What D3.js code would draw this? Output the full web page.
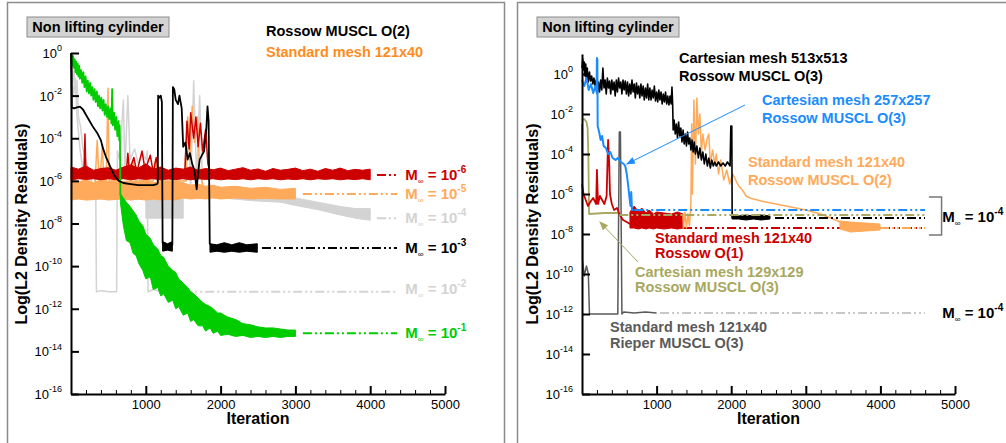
<!DOCTYPE html>
<html><head><meta charset="utf-8">
<script src="https://cdn.jsdelivr.net/npm/d3@7"></script>
<style>body{margin:0;background:#fff}svg{font-family:"Liberation Sans",Arial,Helvetica,sans-serif}</style>
</head><body><svg id="c" width="1006" height="443"></svg>
<script>
// ---------------- DATA (iteration, log10 of residual) ----------------
const xTicks=[1000,2000,3000,4000,5000];
const xMinor=[200,400,600,800,1200,1400,1600,1800,2200,2400,2600,2800,3200,3400,3600,3800,4200,4400,4600,4800];
const yTickExps=[0,-2,-4,-6,-8,-10,-12,-14,-16];

// LEFT: Rossow MUSCL O(2), standard mesh 121x40
const L_green_early=[[0,-0.3],[10,-0.1],[20,-0.6],[30,-0.15],[40,-0.7],[50,-0.3],[60,-0.9],[70,-0.4],[80,-1.0],[90,-0.5],[100,-1.1],[110,-0.6],[120,-1.2],[135,-0.8],[150,-1.4],[165,-0.9],[180,-1.6],[195,-1.1],[210,-1.8],[225,-1.3],[240,-1.9],[255,-1.4],[270,-2.0],[285,-1.6],[300,-2.2],[315,-1.7],[330,-2.3],[345,-1.8],[360,-2.5],[375,-2.0],[390,-2.6],[405,-2.1],[420,-2.7],[435,-2.2],[450,-2.9],[465,-2.4],[480,-3.0],[495,-2.5],[510,-3.1],[525,-2.6],[540,-3.3],[550,-1.7],[560,-3.4],[575,-2.8],[590,-3.6],[605,-3.0],[620,-3.9],[635,-3.2],[645,-4.1],[650,-3.4],[655,-4.2],[660,-6.7]];
const L_green_band=[[660,-6.6,-7.0],[700,-6.8,-8.1],[740,-7.0,-8.8],[790,-7.2,-8.9],[830,-7.4,-9.4],[870,-7.6,-9.5],[910,-7.9,-9.9],[960,-8.1,-10.2],[1000,-8.5,-10.6],[1060,-8.7,-10.5],[1100,-9.0,-11.1],[1160,-9.2,-11.0],[1200,-9.5,-11.4],[1240,-9.6,-11.3],[1300,-10.0,-11.7],[1360,-10.2,-11.6],[1400,-10.3,-12.0],[1440,-10.6,-11.9],[1500,-10.8,-12.3],[1560,-11.0,-12.2],[1600,-11.2,-12.6],[1640,-11.3,-12.5],[1700,-11.5,-12.8],[1760,-11.7,-12.8],[1800,-11.8,-13.05],[1860,-11.9,-12.9],[1900,-12.0,-13.15],[1960,-12.2,-13.05],[2000,-12.2,-13.25],[2100,-12.4,-13.2],[2200,-12.5,-13.3],[2300,-12.7,-13.25],[2400,-12.75,-13.35],[2500,-12.85,-13.3],[2600,-12.9,-13.35],[2700,-12.9,-13.3],[2800,-12.95,-13.35],[2900,-13.0,-13.3],[3000,-13.0,-13.3]];
const L_orange_band=[[0,-5.8,-6.9],[100,-6.05,-6.85],[200,-5.95,-6.9],[300,-6.1,-6.88],[400,-5.95,-6.85],[500,-6.05,-6.9],[600,-5.9,-6.87],[700,-6.1,-6.85],[800,-6.0,-6.9],[900,-6.05,-6.86],[1000,-5.95,-6.9],[1100,-6.1,-6.85],[1200,-6.0,-6.9],[1300,-6.05,-6.87],[1400,-6.0,-6.9],[1500,-6.1,-6.8],[1600,-6.2,-6.85],[1700,-6.15,-6.82],[1800,-6.25,-6.85],[1900,-6.2,-6.8],[2000,-6.3,-6.85],[2200,-6.25,-6.8],[2400,-6.35,-6.85],[2600,-6.3,-6.82],[2800,-6.4,-6.85],[3000,-6.35,-6.85]];
const L_orange_spikes=[[320,-6.2],[350,-4.1],[380,-6.3],[420,-4.3],[440,-6.2],[470,-6.0],[495,-1.65],[510,-6.1],[800,-6.0],[830,-5.1],[860,-6.0],[1100,-6.0],[1130,-5.0],[1160,-6.0],[1540,-6.0],[1560,-3.0],[1590,-5.0],[1620,-2.5],[1650,-4.2],[1690,-3.0],[1720,-5.5],[1760,-6.2]];
const L_red_band=[[0,-5.35,-5.95],[100,-5.45,-5.9],[200,-5.3,-5.93],[300,-5.5,-5.9],[400,-5.42,-5.95],[500,-5.38,-5.9],[600,-5.5,-5.94],[700,-5.35,-5.9],[800,-5.25,-5.95],[900,-5.4,-5.9],[1000,-5.2,-5.93],[1100,-5.45,-5.9],[1200,-5.35,-5.95],[1300,-5.5,-5.91],[1400,-5.4,-5.94],[1500,-5.45,-5.9],[1600,-5.35,-5.95],[1700,-5.5,-5.9],[1800,-5.42,-5.93],[1900,-5.48,-5.9],[2000,-5.4,-5.95],[2100,-5.52,-5.91],[2200,-5.45,-5.94],[2300,-5.38,-5.9],[2400,-5.5,-5.95],[2500,-5.44,-5.9],[2600,-5.55,-5.93],[2700,-5.42,-5.9],[2800,-5.5,-5.95],[2900,-5.46,-5.91],[3000,-5.4,-5.94],[3100,-5.52,-5.9],[3200,-5.45,-5.95],[3300,-5.55,-5.9],[3400,-5.42,-5.93],[3500,-5.5,-5.9],[3600,-5.4,-5.95],[3700,-5.52,-5.91],[3800,-5.46,-5.94],[3900,-5.5,-5.9],[4000,-5.45,-5.95]];
const L_red_spikes=[[170,-5.9],[187,-3.8],[200,-5.9],[740,-5.6],[760,-4.7],[780,-5.5],[840,-4.9],[880,-5.6],[950,-4.6],[990,-5.5],[1060,-4.8],[1100,-5.6],[1140,-4.9],[1170,-5.6],[1520,-5.8],[1550,-3.2],[1580,-4.5],[1600,-2.8],[1640,-4.0],[1670,-3.0],[1700,-4.4],[1730,-3.3],[1760,-4.6],[1800,-3.6],[1830,-5.2],[1860,-5.6]];
const L_gray4_early=[[0,-0.3],[30,-2.0],[60,-1.2],[80,-3.0],[120,-4.5],[160,-5.5],[200,-5.2],[250,-6.0],[300,-5.5],[350,-6.5],[400,-5.8],[450,-6.6],[500,-6.0],[550,-6.7],[600,-6.2],[650,-6.8],[700,-6.4],[750,-6.8],[800,-6.0],[850,-6.8],[900,-5.5],[950,-6.8],[1000,-6.8]];
const L_gray4_band=[[1000,-6.8,-7.75],[1500,-6.8,-7.75],[1500,-6.3,-6.7],[2000,-6.4,-6.8],[2500,-6.55,-6.95],[2800,-6.65,-7.0],[3000,-6.8,-7.15],[3300,-7.0,-7.35],[3600,-7.2,-7.6],[3800,-7.3,-7.75],[4000,-7.3,-7.85]];
const L_gray4_spikes=[[1500,-6.5],[1560,-3.0],[1600,-6.3],[1640,-1.3],[1680,-6.0],[1720,-2.0],[1760,-6.4]];
const L_gray2_line=[[0,-0.1],[20,-1.5],[40,-0.8],[60,-2.0],[80,-1.3],[100,-3.0],[130,-3.5],[160,-4.5],[200,-5.0],[250,-5.8],[300,-6.2],[330,-6.0],[340,-11.2],[400,-11.15],[500,-11.2],[610,-11.2],[620,-4.6],[650,-5.0],[700,-2.2],[720,-5.5],[760,-2.0],[790,-5.0],[850,-4.5],[900,-5.2],[950,-4.7],[1000,-5.0],[1020,-4.6],[1030,-11.2],[1100,-11.1],[1200,-11.2],[1300,-11.15],[1360,-11.2]];
const L_black_line=[[0,0],[5,-1.0],[10,-2.55],[40,-2.6],[80,-2.55],[120,-2.52],[160,-2.65],[200,-2.9],[250,-3.2],[300,-3.5],[350,-3.75],[400,-4.1],[430,-4.5],[470,-4.9],[520,-5.3],[580,-5.75],[640,-6.0],[700,-6.1],[800,-6.15],[900,-6.2],[1000,-6.2],[1100,-6.2],[1150,-6.15],[1160,-6.1],[1165,-2.0],[1180,-2.1],[1200,-2.0],[1215,-2.3],[1225,-8.9],[1250,-9.2],[1300,-9.1],[1355,-9.0],[1362,-1.6],[1380,-1.7],[1400,-2.2],[1430,-2.4],[1450,-2.0],[1480,-2.6],[1500,-4.4],[1530,-4.2],[1560,-5.0],[1590,-4.7],[1620,-5.2],[1650,-5.5],[1680,-6.4],[1700,-5.6],[1720,-5.0],[1750,-4.8],[1780,-4.6],[1810,-3.5],[1825,-2.5],[1840,-3.2],[1855,-8.95],[1900,-9.1],[2000,-9.15],[2100,-9.05],[2200,-9.2],[2300,-9.1],[2400,-9.15],[2490,-9.1]];
const L_black_band=[[1225,-8.85,-9.3],[1290,-8.95,-9.25],[1355,-8.85,-9.3],[1355,null,null],[1858,-8.95,-9.35],[1950,-9.0,-9.3],[2050,-8.9,-9.35],[2150,-9.0,-9.3],[2250,-8.9,-9.35],[2350,-9.0,-9.3],[2490,-8.95,-9.35]];
const L_dash={red:[4090,4358,-5.73],orange:[3100,4358,-6.62],gray4:[4090,4358,-7.75],black:[2553,4358,-9.15],gray2:[1500,4358,-11.2],green:[3100,4358,-13.15]};
const L_labels=[["-6","#cc0000",-5.73],["-5","#ffaa5a",-6.62],["-4","#d3d3d3",-7.75],["-3","#000000",-9.15],["-2","#d3d3d3",-11.05],["-1","#00cc00",-13.15]];

// RIGHT
const R_black_line=[[0,0.3],[10,0.75],[20,0.2],[30,0.6],[40,-0.1],[50,0.5],[60,-0.3],[70,0.3],[85,-0.4],[100,0.1],[115,-0.35],[130,-0.1],[145,-0.5],[160,-0.2],[175,-0.6],[190,-0.3],[205,-1.0],[220,-0.4],[235,-0.9],[250,-0.3],[265,-0.8],[280,0.3],[295,-0.7],[310,-0.3],[325,-1.0],[340,-0.2],[355,-0.7],[370,-0.35],[385,-1.0],[400,-0.3],[415,-0.8],[430,-0.4],[445,-1.1],[460,-0.3],[475,-0.9],[490,-0.2],[505,-0.7],[520,-0.4],[535,-1.0],[550,-0.3],[565,-0.8],[580,-0.35],[595,-1.0],[610,-0.4],[625,-1.1],[640,-0.5],[655,-1.0],[670,-0.3],[685,-0.9],[700,-0.5],[715,-1.2],[730,-0.45],[745,-1.0],[760,-0.6],[775,-1.2],[790,-0.5],[805,-1.1],[820,-0.6],[835,-1.3],[850,-0.7],[865,-1.2],[880,-0.5],[895,-1.3],[910,-0.7],[925,-1.3],[940,-0.8],[955,-1.2],[970,-0.6],[985,-1.35],[1000,-0.9],[1015,-1.4],[1030,-0.8],[1045,-1.3],[1060,-0.9],[1075,-1.5],[1090,-1.0],[1105,-1.4],[1120,-0.9],[1135,-1.5],[1150,-1.1],[1165,-1.55],[1180,-1.1],[1195,-1.5],[1206,-0.65],[1215,-1.5],[1222,-2.8],[1235,-2.3],[1250,-3.0],[1265,-2.5],[1280,-3.2],[1295,-2.4],[1310,-3.1],[1325,-2.7],[1340,-3.4],[1355,-2.8],[1370,-3.5],[1385,-3.0],[1400,-3.6],[1415,-2.9],[1430,-3.5],[1445,-3.2],[1460,-3.8],[1475,-3.3],[1490,-3.9],[1505,-3.4],[1520,-4.0],[1540,-3.6],[1560,-4.2],[1580,-3.7],[1600,-4.3],[1620,-3.9],[1640,-4.5],[1660,-4.0],[1680,-4.6],[1700,-4.2],[1720,-4.7],[1740,-4.3],[1760,-4.6],[1780,-4.4],[1800,-4.6],[1830,-4.4],[1860,-4.6],[1890,-4.45],[1920,-4.6],[1950,-4.4],[1985,-4.6],[1995,-2.6],[2008,-2.6],[2013,-7.2],[2520,-7.15]];
const R_black_flat=[[2013,-7.05,-7.25],[2100,-7.1,-7.25],[2200,-7.05,-7.3],[2300,-7.1,-7.25],[2400,-7.05,-7.3],[2520,-7.1,-7.25]];
const R_blue_line=[[0,-0.3],[30,-0.6],[60,-0.2],[90,-0.8],[120,-0.5],[150,-0.95],[180,-0.6],[195,-0.9],[200,0.8],[206,0.7],[210,-2.6],[230,-2.9],[250,-3.3],[270,-3.1],[290,-3.6],[320,-3.7],[350,-4.0],[380,-3.9],[410,-4.2],[450,-4.3],[480,-4.2],[520,-4.4],[560,-4.5],[580,-4.6],[600,-5.0],[620,-5.6],[640,-6.3],[650,-6.6],[660,-5.9],[670,-6.8],[690,-6.8]];
const R_olive_line=[[0,-2.3],[30,-2.25],[60,-2.4],[75,-2.7],[85,-4.0],[95,-7.0],[300,-6.95],[500,-6.95]];
const R_red_line=[[0,-5.5],[20,-6.0],[50,-6.3],[80,-6.6],[110,-6.4],[150,-6.2],[190,-6.5],[200,-4.8],[215,-6.5],[240,-6.1],[270,-6.3],[300,-6.5],[330,-6.1],[350,-3.3],[365,-4.5],[375,-6.0],[400,-6.5],[430,-6.8],[470,-6.7],[500,-7.0],[550,-7.3],[600,-7.4],[643,-7.5]];
const R_red_band=[[643,-6.9,-7.7],[700,-6.6,-7.7],[760,-6.9,-7.75],[800,-6.7,-7.7],[860,-6.95,-7.75],[900,-6.8,-7.7],[960,-7.0,-7.75],[1000,-6.9,-7.7],[1100,-6.95,-7.75],[1200,-7.0,-7.7],[1280,-6.9,-7.75],[1354,-7.0,-7.7]];
const R_orange_line=[[1354,-7.0],[1360,-7.7],[1380,-6.9],[1400,-7.7],[1420,-7.0],[1440,-7.6],[1460,-6.5],[1470,-2.5],[1480,-6.0],[1500,-1.3],[1520,-4.5],[1540,-1.2],[1560,-3.0],[1580,-2.0],[1600,-4.0],[1620,-3.0],[1650,-3.8],[1680,-3.2],[1700,-3.0],[1720,-4.5],[1750,-3.8],[1780,-4.5],[1800,-4.0],[1830,-5.0],[1860,-4.3],[1900,-5.3],[1940,-4.8],[1980,-5.5],[2020,-5.0],[2060,-5.3],[2100,-5.6],[2150,-5.8],[2200,-6.1],[2252,-6.2],[2400,-6.35],[2600,-6.5],[2800,-6.65],[3000,-6.8],[3200,-7.0],[3400,-7.3],[3458,-7.4]];
const R_orange_band=[[3458,-7.35,-7.75],[3600,-7.4,-7.9],[3800,-7.45,-7.85],[3995,-7.5,-7.8]];
const R_dgray_line=[[0,-2.5],[8,-9.3],[30,-10.1],[60,-9.6],[85,-10.0],[100,-12.0],[480,-12.0],[500,-2.9],[515,-2.9],[535,-12.0],[560,-11.9],[700,-11.95],[850,-11.9],[1000,-11.95]];
const R_dash={blue:[700,4598,-6.8],olive:[500,4598,-7.05],black:[2587,4598,-7.2],red:[1354,4598,-7.7],orange:[3995,4598,-7.7],rieper:[1046,4598,-11.95]};

// ---------------- DRAW ----------------
const svg=d3.select("#c");
const C={red:"#cc0000",orange:"#ffaa5a",orangeT:"#ff8c1a",gray:"#d3d3d3",green:"#00cc00",blue:"#1a8cff",olive:"#a8a860",dgray:"#5a5a5a"};
const P=10;
svg.append("path").attr("d","M7.5,443V2.5H504.5V443").attr("fill","none").attr("stroke","#8c8c8c").attr("stroke-width",1.5);
svg.append("path").attr("d","M517.5,443V2.5H1006").attr("fill","none").attr("stroke","#8c8c8c").attr("stroke-width",1.5);

function makePanel(cfg){
  const x=d3.scaleLinear().domain([0,5000]).range([cfg.x0,cfg.x1]);
  const y=d3.scaleLog().domain([1e-16,cfg.ymax]).range([394,cfg.ytop]);
  const g=svg.append("g");
  const data=g.append("g");
  const ax=g.append("g");
  const ya=ax.append("g").attr("transform",`translate(${cfg.x0},0)`)
    .call(d3.axisLeft(y).tickValues(yTickExps.map(e=>Math.pow(P,e))).tickSizeInner(-8).tickSizeOuter(0).tickPadding(9).tickFormat(()=>""));
  ya.select(".domain").attr("stroke-width",2);
  ya.selectAll(".tick line").attr("stroke-width",2);
  ya.selectAll(".tick text").each(function(d){
    const t=d3.select(this).attr("font-size",13).attr("fill","#000").attr("dy","0.35em").attr("font-family",null);
    t.append("tspan").text("10");
    t.append("tspan").attr("font-size",9).attr("dy","-0.75em").text(String(Math.round(Math.log10(d))));
  });
  const xa=ax.append("g").attr("transform","translate(0,394)")
    .call(d3.axisBottom(x).tickValues(xTicks).tickSizeInner(-8).tickSizeOuter(0).tickPadding(6).tickFormat(d3.format("d")));
  xa.select(".domain").attr("stroke-width",2);
  xa.selectAll(".tick line").attr("stroke-width",2);
  xa.selectAll(".tick text").attr("font-size",13).attr("font-family",null).attr("fill","#000");
  ax.append("g").attr("transform","translate(0,394)")
    .call(d3.axisBottom(x).tickValues(xMinor).tickSizeInner(-4).tickSizeOuter(0).tickFormat(()=>""))
    .call(s=>s.select(".domain").remove());
  g.append("text").attr("x",(cfg.x0+cfg.x1)/2).attr("y",424).attr("text-anchor","middle").attr("font-weight","bold").attr("font-size",16).text("Iteration");
  g.append("text").attr("transform",`translate(${cfg.x0-44},224) rotate(-90)`).attr("text-anchor","middle").attr("font-weight","bold").attr("font-size",16).text("Log(L2 Density Residuals)");
  g.append("rect").attr("x",cfg.bx).attr("y",17).attr("width",142).attr("height",20).attr("fill","#d3d3d3").attr("stroke","#8c8c8c").attr("stroke-width",1);
  g.append("text").attr("x",cfg.bx+71).attr("y",32).attr("text-anchor","middle").attr("font-weight","bold").attr("font-size",14.5).text("Non lifting cylinder");
  return {x,y,g,data};
}
function pv(e){return Math.pow(P,e);}
function band(p,arr,color){
  const a=d3.area().defined(d=>d[1]!==null).x(d=>p.x(d[0])).y0(d=>p.y(pv(d[2]))).y1(d=>p.y(pv(d[1])));
  p.data.append("path").attr("d",a(arr)).attr("fill",color).attr("stroke",color).attr("stroke-width",1).attr("stroke-linejoin","round");
}
function line(p,arr,color,w){
  const l=d3.line().x(d=>p.x(d[0])).y(d=>p.y(pv(d[1])));
  p.data.append("path").attr("d",l(arr)).attr("fill","none").attr("stroke",color).attr("stroke-width",w||1.5).attr("stroke-linejoin","round");
}
function dash(p,d,color,w){
  p.data.append("line").attr("x1",p.x(d[0])).attr("x2",p.x(d[1])).attr("y1",p.y(pv(d[2]))).attr("y2",p.y(pv(d[2])))
   .attr("stroke",color).attr("stroke-width",w||2).attr("stroke-dasharray","9,3,2,3,2,3");
}
function machLabel(p,xIt,e,exp,color){
  const t=p.g.append("text").attr("x",p.x(xIt)).attr("y",p.y(pv(e))+5).attr("fill",color).attr("font-weight","bold").attr("font-size",15);
  t.append("tspan").text("M");
  t.append("tspan").attr("font-size",8).attr("font-weight","normal").attr("dy",4).text("∞");
  t.append("tspan").attr("dy",-4).text(" = 10");
  t.append("tspan").attr("font-size",10).attr("dy",-7).text(exp);
}

// ---- left
const Lp=makePanel({x0:71,x1:445,ymax:1,ytop:53,bx:27});
line(Lp,L_gray2_line,C.gray,1.5);
line(Lp,L_gray4_early,C.gray,1.5);
band(Lp,L_gray4_band,C.gray);
line(Lp,L_gray4_spikes,C.gray,1.5);
dash(Lp,L_dash.gray2,C.gray);dash(Lp,L_dash.gray4,C.gray);
band(Lp,L_orange_band,C.orange);
line(Lp,L_orange_spikes,C.orange,1.5);
dash(Lp,L_dash.orange,C.orange);
band(Lp,L_red_band,C.red);
line(Lp,L_red_spikes,C.red,1.5);
dash(Lp,L_dash.red,C.red);
line(Lp,L_green_early,C.green,1.8);
band(Lp,L_green_band,C.green);
dash(Lp,L_dash.green,C.green);
band(Lp,L_black_band,"#000");
line(Lp,L_black_line,"#000",1.8);
dash(Lp,L_dash.black,"#000");
L_labels.forEach(l=>machLabel(Lp,4470,l[2],l[0],l[1]));
Lp.g.append("text").attr("x",266).attr("y",36).attr("font-weight","bold").attr("font-size",14.5).text("Rossow MUSCL O(2)");
Lp.g.append("text").attr("x",266).attr("y",57).attr("font-weight","bold").attr("font-size",14.5).attr("fill",C.orangeT).text("Standard mesh 121x40");

// ---- right
const Rp=makePanel({x0:582,x1:955,ymax:10,ytop:54,bx:537});
line(Rp,R_dgray_line,C.dgray,1.5);
dash(Rp,R_dash.rieper,"#c8c8c8");
line(Rp,R_olive_line,C.olive,1.8);
line(Rp,R_red_line,C.red,1.8);
band(Rp,R_red_band,C.red);
dash(Rp,R_dash.red,C.red);
line(Rp,R_orange_line,C.orange,1.5);
band(Rp,R_orange_band,C.orange);
dash(Rp,R_dash.orange,C.orange);
line(Rp,R_black_line,"#000",1.6);
band(Rp,R_black_flat,"#000");
dash(Rp,R_dash.black,"#000");
dash(Rp,R_dash.olive,C.olive);
line(Rp,R_blue_line,C.blue,2);
dash(Rp,R_dash.blue,C.blue);
const bx0=Rp.x(4650),bx1=Rp.x(4820),by0=Rp.y(pv(-6.15)),by1=Rp.y(pv(-8.05));
Rp.g.append("path").attr("d",`M${bx0},${by0}H${bx1}V${by1}H${bx0}`).attr("fill","none").attr("stroke","#777").attr("stroke-width",1.5);
machLabel(Rp,4830,-7.15,"-4","#000");
machLabel(Rp,4830,-11.95,"-4","#000");
const defs=svg.append("defs");
function arrow(id,color){defs.append("marker").attr("id",id).attr("viewBox","0 0 10 10").attr("refX",9).attr("refY",5).attr("markerWidth",9).attr("markerHeight",9).attr("orient","auto").append("path").attr("d","M0,1L10,5L0,9z").attr("fill",color);}
arrow("ab",C.blue);arrow("ao",C.olive);
Rp.g.append("line").attr("x1",Rp.x(2185)).attr("y1",Rp.y(pv(-1.55))).attr("x2",Rp.x(600)).attr("y2",Rp.y(pv(-4.5))).attr("stroke",C.blue).attr("stroke-width",1).attr("marker-end","url(#ab)");
Rp.g.append("line").attr("x1",Rp.x(750)).attr("y1",Rp.y(pv(-9.4))).attr("x2",Rp.x(240)).attr("y2",Rp.y(pv(-7.4))).attr("stroke",C.olive).attr("stroke-width",1).attr("marker-end","url(#ao)");
function txt(x,y,s,c){Rp.g.append("text").attr("x",x).attr("y",y).attr("font-weight","bold").attr("font-size",14.5).attr("fill",c).text(s);}
txt(679,63,"Cartesian mesh 513x513","#000");txt(679,81,"Rossow MUSCL O(3)","#000");
txt(762,105,"Cartesian mesh 257x257",C.blue);txt(762,123,"Rossow MUSCL O(3)",C.blue);
txt(748,167,"Standard mesh 121x40",C.orange);txt(748,185,"Rossow MUSCL O(2)",C.orange);
txt(655,243,"Standard mesh 121x40",C.red);txt(655,258,"Rossow O(1)",C.red);
txt(635,277,"Cartesian mesh 129x129",C.olive);txt(635,292,"Rossow MUSCL O(3)",C.olive);
txt(610,332,"Standard mesh 121x40",C.dgray);txt(610,348,"Rieper MUSCL O(3)",C.dgray);
</script></body></html>
